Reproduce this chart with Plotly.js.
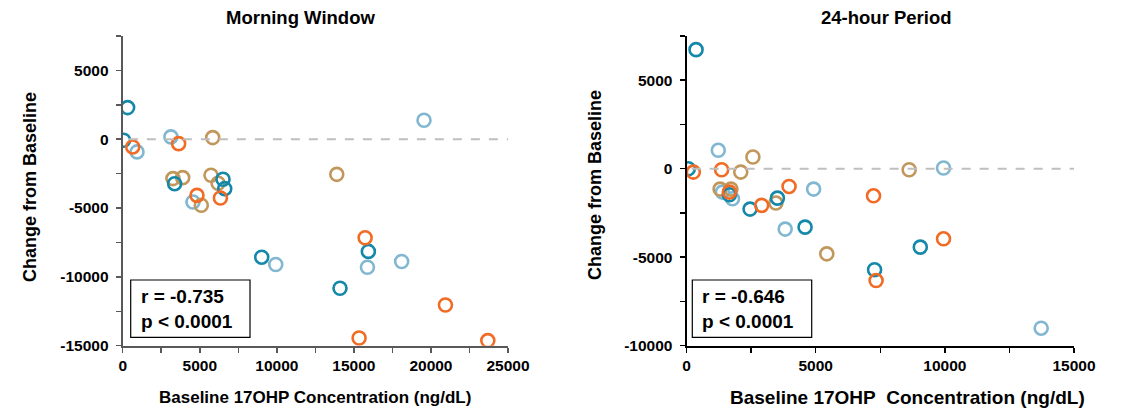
<!DOCTYPE html>
<html>
<head>
<meta charset="utf-8">
<script src="https://cdn.plot.ly/plotly-3.0.1.min.js"></script>
<style>html,body{margin:0;padding:0;background:#fff;}#chart{width:1128px;height:411px;}</style>
</head>
<body>
<div id="chart"></div>
<script>
// ---- Morning Window (left panel) ----
const mwTealX   = [320, 60, 3370, 6510, 6620, 9020, 15940, 14100];
const mwTealY   = [2300, -70, -3230, -2910, -3590, -8570, -8150, -10830];
const mwOrangeX = [650, 3630, 4820, 6340, 15730, 20940, 15340, 23690];
const mwOrangeY = [-560, -320, -4080, -4270, -7160, -12040, -14440, -14630];
const mwLightX  = [930, 3130, 4560, 19550, 15880, 18100, 9930];
const mwLightY  = [-920, 170, -4560, 1380, -9300, -8880, -9100];
const mwTanX    = [5840, 3260, 3890, 5730, 6190, 5100, 13890];
const mwTanY    = [120, -2860, -2790, -2620, -3200, -4800, -2550];

// ---- 24-hour Period (right panel) ----
const dTealX   = [370, 70, 1660, 2460, 3520, 4590, 9050, 7280];
const dTealY   = [6730, 0, -1470, -2280, -1660, -3300, -4430, -5710];
const dOrangeX = [265, 1360, 1660, 2910, 3970, 7240, 9950, 7340];
const dOrangeY = [-190, -60, -1320, -2070, -1000, -1530, -3960, -6320];
const dLightX  = [1230, 1390, 1780, 4920, 3820, 9950, 13730];
const dLightY  = [1040, -1320, -1700, -1150, -3410, 40, -9010];
const dTanX    = [2570, 2100, 1300, 1720, 3460, 5430, 8620];
const dTanY    = [660, -190, -1150, -1150, -1940, -4810, -60];

// ---- tick labels ----
const mwXTicks = [0, 5000, 10000, 15000, 20000, 25000];
const mwXText  = ["0", "5000", "10000", "15000", "20000", "25000"];
const mwYTicks = [-15000, -10000, -5000, 0, 5000];
const mwYText  = ["-15000", "-10000", "-5000", "0", "5000"];
const dXTicks  = [0, 5000, 10000, 15000];
const dXText   = ["0", "5000", "10000", "15000"];
const dYTicks  = [-10000, -5000, 0, 5000];
const dYText   = ["-10000", "-5000", "0", "5000"];

const panelTitles = ["Morning Window", "24-hour Period"];
const yTitle = "Change from Baseline";
const xTitles = ["Baseline 17OHP Concentration (ng/dL)", "Baseline 17OHP\u00a0 Concentration (ng/dL)"];
const stats = [["r = -0.735", "p < 0.0001"], ["r = -0.646", "p < 0.0001"]];

const cTeal = "#1488a8", cOrange = "#f26b24", cLight = "#82b7d1", cTan = "#c1975c";

function tr(x, y, color, xa, ya) {
  return {x: x, y: y, xaxis: xa, yaxis: ya, type: "scatter", mode: "markers", showlegend: false,
    marker: {symbol: "circle-open", size: 13, color: color, line: {width: 2.6, color: color}}};
}
const data = [
  tr(mwLightX, mwLightY, cLight, "x", "y"),
  tr(mwTanX, mwTanY, cTan, "x", "y"),
  tr(mwTealX, mwTealY, cTeal, "x", "y"),
  tr(mwOrangeX, mwOrangeY, cOrange, "x", "y"),
  tr(dLightX, dLightY, cLight, "x2", "y2"),
  tr(dTanX, dTanY, cTan, "x2", "y2"),
  tr(dTealX, dTealY, cTeal, "x2", "y2"),
  tr(dOrangeX, dOrangeY, cOrange, "x2", "y2")
];

const W = 1128, H = 411;
const px = v => v / W, py = v => 1 - v / H;
const FAM = "Liberation Sans, Arial, sans-serif";
const tickFont = {family: FAM, size: 15.5, color: "#000", weight: "bold"};

function axis(range, dom, anchor, lineColor, tv, tt) {
  return {range: range, domain: dom, anchor: anchor, showgrid: false, zeroline: false,
    showline: true, linecolor: lineColor, linewidth: 2, ticks: "outside", ticklen: 5, tickwidth: 1.5,
    tickcolor: lineColor, tickmode: "array", tickvals: tv, ticktext: tt, tickfont: tickFont,
    minor: {tickmode: "linear", dtick: 2500, tick0: 0, ticks: "outside", ticklen: 5, tickwidth: 1.5, tickcolor: lineColor, showgrid: false},
    fixedrange: true};
}

const layout = {
  width: W, height: H,
  margin: {l: 0, r: 0, t: 0, b: 0},
  paper_bgcolor: "#fff", plot_bgcolor: "#fff",
  font: {family: FAM, color: "#000"},
  xaxis: axis([0, 25000], [px(122.7), px(508)], "y", "#595959", mwXTicks, mwXText),
  yaxis: Object.assign(axis([-15000, 7500], [py(345.7), py(36)], "x", "#595959", mwYTicks, mwYText), {ticklabelstandoff: 4}),
  xaxis2: axis([0, 15000], [px(686.5), px(1074)], "y2", "#000", dXTicks, dXText),
  yaxis2: Object.assign(axis([-10000, 7500], [py(345.7), py(36)], "x2", "#000", dYTicks, dYText), {ticklabelstandoff: 4}),
  shapes: [
    {type: "line", xref: "x", yref: "y", x0: 400, x1: 25000, y0: 0, y1: 0, line: {color: "#bfbfbf", width: 2, dash: "dash"}},
    {type: "line", xref: "x2", yref: "y2", x0: 200, x1: 15000, y0: 0, y1: 0, line: {color: "#bfbfbf", width: 2, dash: "dash"}},
    {type: "rect", xref: "paper", yref: "paper", x0: px(130.7), x1: px(250), y0: py(337.3), y1: py(280), line: {color: "#000", width: 1.2}, fillcolor: "#fff"},
    {type: "rect", xref: "paper", yref: "paper", x0: px(692.3), x1: px(811.7), y0: py(337.3), y1: py(280), line: {color: "#000", width: 1.2}, fillcolor: "#fff"}
  ],
  annotations: [
    {text: "<b>" + panelTitles[0] + "</b>", xref: "paper", yref: "paper", x: px(300), y: py(18), xanchor: "center", yanchor: "middle", showarrow: false, font: {size: 18.5}},
    {text: "<b>" + panelTitles[1] + "</b>", xref: "paper", yref: "paper", x: px(886), y: py(18), xanchor: "center", yanchor: "middle", showarrow: false, font: {size: 18.5}},
    {text: "<b>" + yTitle + "</b>", xref: "paper", yref: "paper", x: px(30), y: py(187), textangle: -90, xanchor: "center", yanchor: "middle", showarrow: false, font: {size: 18}},
    {text: "<b>" + yTitle + "</b>", xref: "paper", yref: "paper", x: px(595), y: py(185), textangle: -90, xanchor: "center", yanchor: "middle", showarrow: false, font: {size: 18}},
    {text: "<b>" + xTitles[0] + "</b>", xref: "paper", yref: "paper", x: px(315), y: py(397), xanchor: "center", yanchor: "middle", showarrow: false, font: {size: 17}},
    {text: "<b>" + xTitles[1] + "</b>", xref: "paper", yref: "paper", x: px(907), y: py(397), xanchor: "center", yanchor: "middle", showarrow: false, font: {size: 19}},
    {text: "<b>" + stats[0][0] + "<br>" + stats[0][1] + "</b>", xref: "paper", yref: "paper", x: px(139), y: py(309), xanchor: "left", yanchor: "middle", align: "left", showarrow: false, font: {size: 19}},
    {text: "<b>" + stats[1][0] + "<br>" + stats[1][1] + "</b>", xref: "paper", yref: "paper", x: px(700), y: py(309), xanchor: "left", yanchor: "middle", align: "left", showarrow: false, font: {size: 19}}
  ]
};

Plotly.newPlot("chart", data, layout, {displayModeBar: false, staticPlot: true});
</script>
</body>
</html>
